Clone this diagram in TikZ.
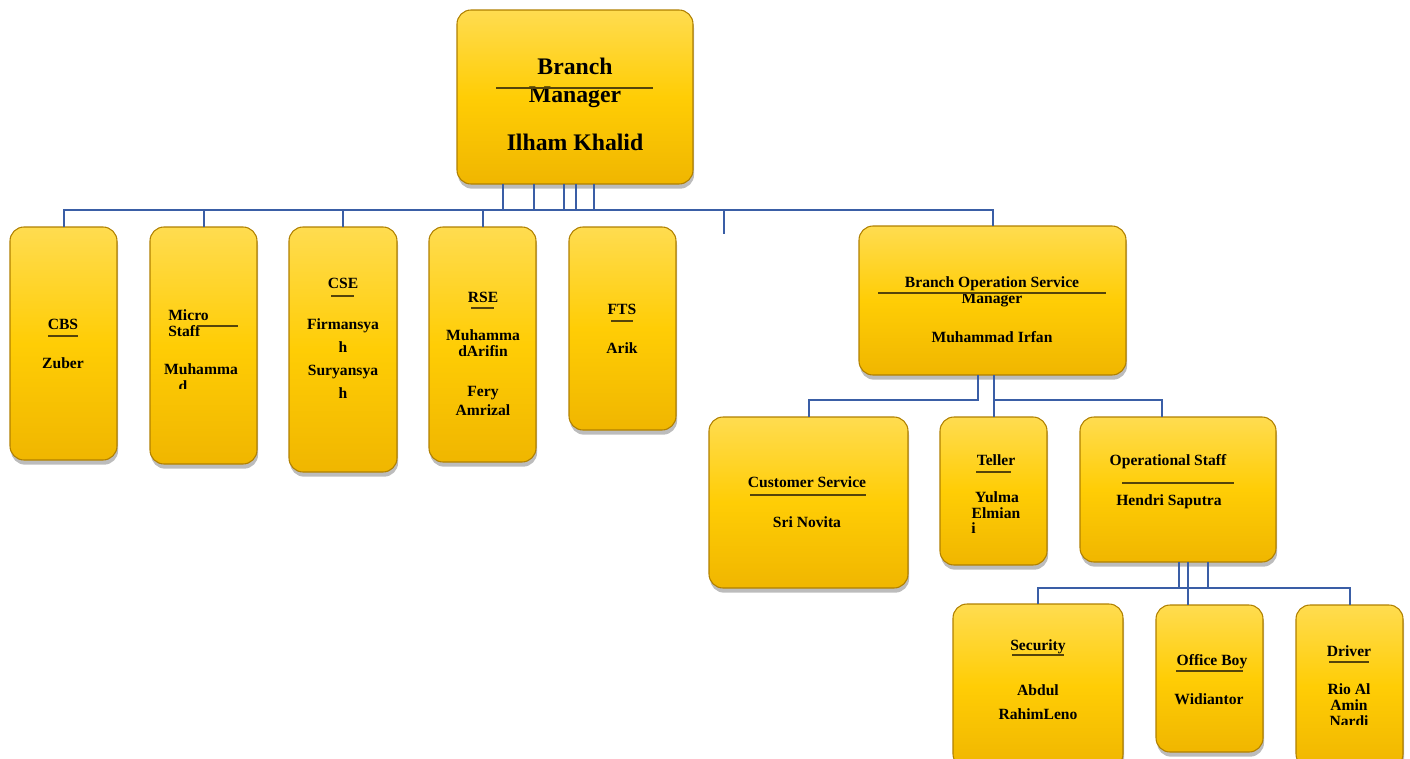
\documentclass[tikz,border=0pt]{standalone}
\usepackage{fontspec}
\setmainfont{Liberation Serif}
\usetikzlibrary{shadows}
\definecolor{gtop}{RGB}{255,220,80}
\definecolor{gmid}{RGB}{255,205,5}
\definecolor{gbot}{RGB}{240,182,0}
\definecolor{gedge}{RGB}{176,128,0}
\definecolor{conn}{RGB}{58,94,166}
\definecolor{uline}{RGB}{85,68,10}
\tikzset{
 box/.style={rounded corners=10.5pt, top color=gtop, bottom color=gbot, middle color=gmid,
   draw=gedge, line width=0.8pt, inner sep=0pt, outer sep=0pt,
   drop shadow={shadow xshift=0.8pt, shadow yshift=-3.5pt, opacity=0.35, fill=black!75}},
 wire/.style={draw=conn, line width=1.5pt},
 ul/.style={draw=uline, line width=1.4pt},
 sm/.style={font=\fontsize{11.7}{13}\selectfont\bfseries, anchor=base, inner sep=0pt},
 lg/.style={font=\fontsize{17.8}{20}\selectfont\bfseries, anchor=base, inner sep=0pt},
}
\newcommand\boxnode[5]{\node[box, minimum width={(#4-#2)*0.75pt}, minimum height={(#5-#3)*0.75pt}] (#1) at ({(#2+#4)/2},{(#3+#5)/2}) {};}
\newcommand\smtxt[4]{\node[sm] (#1) at (#2,{#3+5.2}) {#4};}
\newcommand\lgtxt[4]{\node[lg] (#1) at (#2,{#3+7.8}) {#4};}
\begin{document}
\begin{tikzpicture}[x=0.75pt,y=-0.75pt]
\clip (0,0) rectangle (1410,758);
% boxes
\boxnode{bm}{457}{10}{693}{184}
\boxnode{cbs}{10}{227}{117}{460}
\boxnode{micro}{150}{227}{257}{464}
\boxnode{cse}{289}{227}{397}{472}
\boxnode{rse}{429}{227}{536}{462}
\boxnode{fts}{569}{227}{676}{430}
\boxnode{bos}{859}{226}{1126}{375}
\boxnode{cs}{709}{417}{908}{588}
\boxnode{teller}{940}{417}{1047}{565}
\boxnode{ops}{1080}{417}{1276}{562}
\boxnode{sec}{953}{604}{1123}{768}
\boxnode{ob}{1156}{605}{1263}{752}
\boxnode{drv}{1296}{605}{1403}{768}
% connector helper coordinates
\coordinate (bus) at (0,210);
\coordinate (s1) at (503,0);
\coordinate (s2) at (534,0);
\coordinate (s3) at (564,0);
\coordinate (s4) at (576,0);
\coordinate (s5) at (594,0);
\coordinate (dang) at (724,234);
\coordinate (bl) at (978,400);
\coordinate (orr) at (1162,0);
\coordinate (bus2) at (0,588);
\coordinate (o1) at (1179,0);
\coordinate (o2) at (1188,0);
\coordinate (o3) at (1208,0);
% connectors
\draw[wire] (cbs.north) -- (cbs.north |- bus) -- (bos.north |- bus) -- (bos.north);
\draw[wire] (micro.north) -- (micro.north |- bus);
\draw[wire] (cse.north) -- (cse.north |- bus);
\draw[wire] (rse.north) -- (rse.north |- bus);
\foreach \s in {s1,s2,s3,s4,s5} \draw[wire] (bm.south -| \s) -- (\s |- bus);
\draw[wire] (dang |- bus) -- (dang);
\draw[wire] (bos.south -| bl) -- (bl) -- (bl -| cs.north) -- (cs.north);
\draw[wire] (bos.south -| teller.north) -- (teller.north);
\draw[wire] (bl -| teller.north) -- (bl -| orr) -- (ops.north -| orr);
\foreach \s in {o1,o3} \draw[wire] (ops.south -| \s) -- (\s |- bus2);
\draw[wire] (ops.south -| o2) -- (ob.north -| o2);
\draw[wire] (sec.north) -- (sec.north |- bus2) -- (drv.north |- bus2) -- (drv.north);
% Branch Manager
\lgtxt{bm1}{575}{67}{Branch}
\lgtxt{bm2}{575}{95}{Manager}
\draw[ul] (496,88) -- (653,88);
\lgtxt{bm3}{575}{143}{Ilham Khalid}
% CBS
\smtxt{cb1}{63}{324}{CBS}
\draw[ul] (48,336) -- (78,336);
\smtxt{cb2}{63}{363}{Zuber}
% Micro staff
\node[sm, anchor=base west] (mi1) at (168,{315+5.2}) {Micro};
\node[sm, anchor=base west] (mi2) at (168,{331+5.2}) {Staff};
\draw[ul] (197,326) -- (238,326);
\smtxt{mi3}{201}{369}{Muhamma}
\begin{scope}
\clip (150,376) rectangle (257,388);
\node[sm] (mi4) at (183,391) {d};
\end{scope}
% CSE
\smtxt{ce1}{343}{283}{CSE}
\draw[ul] (331,296) -- (354,296);
\smtxt{ce2}{343}{324}{Firmansya}
\smtxt{ce3}{343}{347}{h}
\smtxt{ce4}{343}{370}{Suryansya}
\smtxt{ce5}{343}{393}{h}
% RSE
\smtxt{rs1}{483}{297}{RSE}
\draw[ul] (471,308) -- (494,308);
\smtxt{rs2}{483}{335}{Muhamma}
\smtxt{rs3}{483}{351}{dArifin}
\smtxt{rs4}{483}{391}{Fery}
\smtxt{rs5}{483}{410}{Amrizal}
% FTS
\smtxt{ft1}{622}{309}{FTS}
\draw[ul] (611,321) -- (633,321);
\smtxt{ft2}{622}{348}{Arik}
% Branch Operation Service Manager
\smtxt{bo1}{992}{282}{Branch Operation Service}
\smtxt{bo2}{992}{298}{Manager}
\draw[ul] (878,293) -- (1106,293);
\smtxt{bo3}{992}{337}{Muhammad Irfan}
% Customer Service
\smtxt{cs1}{807}{482}{Customer Service}
\draw[ul] (750,495) -- (866,495);
\smtxt{cs2}{807}{522}{Sri Novita}
% Teller
\smtxt{te1}{996}{460}{Teller}
\draw[ul] (976,472) -- (1011,472);
\smtxt{te2}{997}{497}{Yulma}
\smtxt{te3}{996}{513}{Elmian}
\begin{scope}
\clip (940,520) rectangle (1047,533);
\node[sm, anchor=base west] (te4) at (971,{528+5.2}) {i};
\end{scope}
% Operational staff
\smtxt{op1}{1168}{460}{Operational Staff}
\draw[ul] (1122,483) -- (1234,483);
\smtxt{op2}{1169}{500}{Hendri Saputra}
% Security
\smtxt{se1}{1038}{645}{Security}
\draw[ul] (1012,655) -- (1064,655);
\smtxt{se2}{1038}{690}{Abdul}
\smtxt{se3}{1038}{714}{RahimLeno}
% Office Boy
\smtxt{ob1}{1212}{660}{Office Boy}
\draw[ul] (1176,671) -- (1243,671);
\smtxt{ob2}{1209}{699}{Widiantor}
% Driver
\smtxt{dr1}{1349}{651}{Driver}
\draw[ul] (1329,662) -- (1369,662);
\smtxt{dr2}{1349}{689}{Rio Al}
\smtxt{dr3}{1349}{705}{Amin}
\begin{scope}
\clip (1296,710) rectangle (1403,724);
\smtxt{dr4}{1349}{721}{Nardi}
\end{scope}
\end{tikzpicture}
\end{document}
